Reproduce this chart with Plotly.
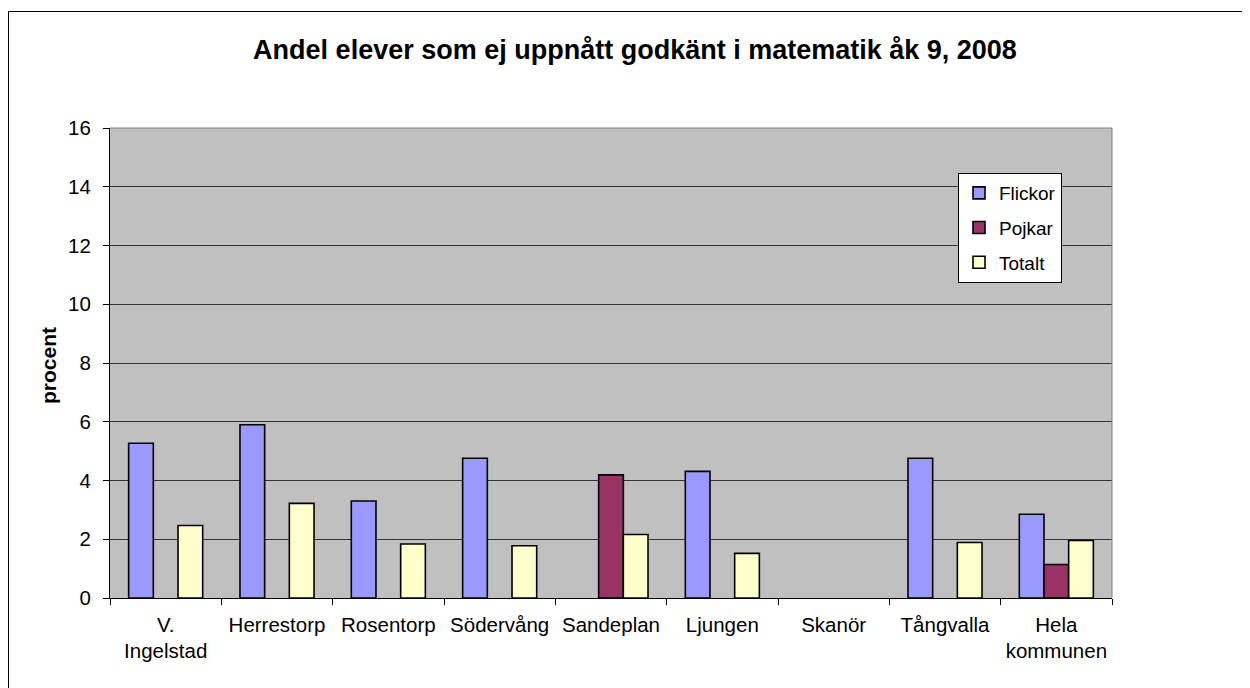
import plotly.graph_objects as go

categories = ["V.<br>Ingelstad", "Herrestorp", "Rosentorp", "Södervång", "Sandeplan",
              "Ljungen", "Skanör", "Tångvalla", "Hela<br>kommunen"]
flickor = [5.27, 5.90, 3.30, 4.76, None, 4.31, None, 4.76, 2.85]
pojkar = [None, None, None, None, 4.19, None, None, None, 1.14]
totalt = [2.47, 3.22, 1.84, 1.78, 2.16, 1.52, None, 1.89, 1.96]
y_ticks = [0, 2, 4, 6, 8, 10, 12, 14, 16]

series = [("Flickor", flickor, "#9999FF"), ("Pojkar", pojkar, "#993366"), ("Totalt", totalt, "#FFFFCC")]

FONT = "Liberation Sans, Arial, sans-serif"

fig = go.Figure()
for name, vals, col in series:
    fig.add_trace(go.Bar(
        x=categories, y=vals, name=name, legendgroup=name,
        marker=dict(color=col, line=dict(color="#000000", width=1.6)),
    ))

OFF = 8  # page body margin
W, H = 1250 - OFF, 688 - OFF
# plot area in reference (screen) pixels
L, R, T, B = 110, 1112, 128, 598
ml, mr, mt, mb = L - OFF, 1250 - R, T - OFF, 688 - B
pw, ph = R - L, B - T

def px(x):
    return (x - L) / pw

def py(y):
    return (B - y) / ph

fig.update_layout(
    width=W, height=H,
    margin=dict(l=ml, r=mr, t=mt, b=mb, pad=0),
    paper_bgcolor="#FFFFFF", plot_bgcolor="#C0C0C0",
    font=dict(family=FONT, size=20, color="#000000"),
    barmode="group", bargap=0.335, bargroupgap=0,
    title=dict(text="<b>Andel elever som ej uppnått godkänt i matematik åk 9, 2008</b>",
               font=dict(size=27, family=FONT, color="#000000"),
               xref="paper", x=px(635), xanchor="center",
               yref="container", y=1 - (50 - OFF) / H, yanchor="middle"),
    legend=dict(x=px(958), y=py(173), xanchor="left", yanchor="top",
                bgcolor="#FFFFFF", bordercolor="#000000", borderwidth=1,
                font=dict(size=19, family=FONT), tracegroupgap=7,
                traceorder="grouped", itemwidth=30),
    showlegend=True,
)

fig.update_xaxes(
    showline=True, linecolor="#000000", linewidth=1,
    ticks="outside", ticklen=6, tickcolor="#000000", tickson="boundaries",
    tickfont=dict(size=20.5), showgrid=False, ticklabelstandoff=8,
)
fig.update_yaxes(
    range=[0, 16], tickvals=y_ticks, ticktext=[str(v) for v in y_ticks],
    showline=True, linecolor="#000000", linewidth=1,
    ticks="outside", ticklen=6, tickcolor="#000000",
    showgrid=True, gridcolor="#333333", gridwidth=1,
    tickfont=dict(size=20.5), ticklabelstandoff=8, zeroline=False,
)

# y-axis title
fig.add_annotation(text="<b>procent</b>", textangle=-90, xref="paper", yref="paper",
                   x=px(48), y=py(366), xanchor="center", yanchor="middle",
                   showarrow=False, font=dict(size=21, family=FONT))

# plot area top/right border (gray)
fig.add_shape(type="line", xref="paper", yref="paper", x0=0, x1=1, y0=1, y1=1,
              line=dict(color="#808080", width=1))
fig.add_shape(type="line", xref="paper", yref="paper", x0=1, x1=1, y0=0, y1=1,
              line=dict(color="#808080", width=1))
# chart frame
fig.add_shape(type="rect", xref="paper", yref="paper",
              x0=px(8.5), x1=px(1300), y0=py(740), y1=py(11.5),
              line=dict(color="#000000", width=1), fillcolor="rgba(0,0,0,0)")

fig.write_html("out.html")
